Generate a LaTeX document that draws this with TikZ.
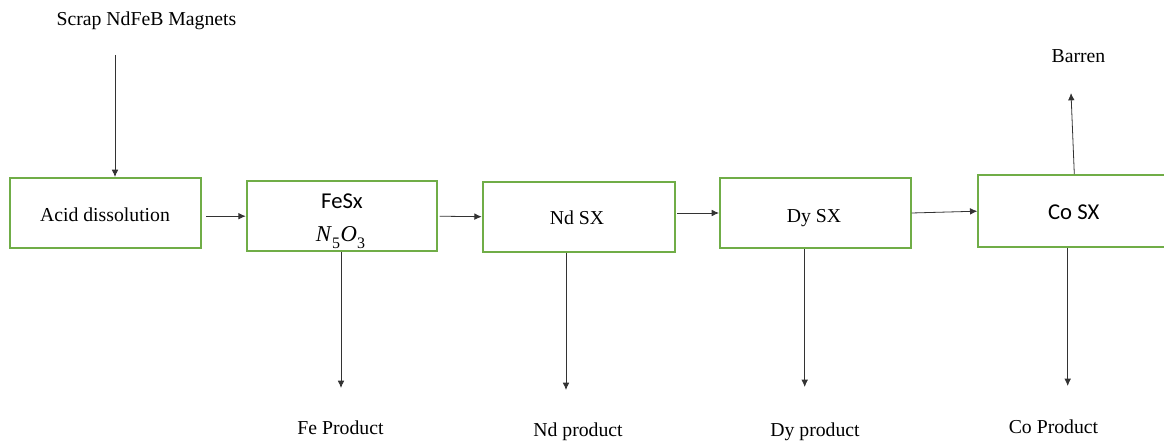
\documentclass[tikz,border=0pt]{standalone}
\usepackage{fontspec}
\setmainfont{Liberation Serif}
\newfontfamily\calibrifont{Carlito}
\usetikzlibrary{arrows.meta}
\definecolor{stagegreen}{RGB}{112,173,71}
\newcommand{\lowidx}[1]{\raisebox{-0.28em}{\fontsize{12}{12}\selectfont #1}}
\begin{document}
\begin{tikzpicture}[x=0.75pt,y=-0.75pt,
  stage/.style={draw=stagegreen, line width=1.5pt, inner sep=0pt},
  serif/.style={font=\fontsize{14.8}{17}\selectfont, inner sep=0pt, anchor=base},
  sans/.style={font=\calibrifont\fontsize{17}{20}\selectfont, inner sep=0pt, anchor=base},
  flow/.style={draw=black!80, line width=0.6pt, -{Latex[length=5.5pt,width=5pt]}}]
\useasboundingbox (0,0) rectangle (1164,445);

% process stages
\node[stage, minimum width=143.25pt, minimum height=52.5pt] (acid) at (105.5,213) {};
\node[stage, minimum width=142.5pt, minimum height=52.7pt] (fe) at (341.7,216.2) {};
\node[stage, minimum width=144pt, minimum height=52.5pt] (nd) at (578.7,216.7) {};
\node[stage, minimum width=143pt, minimum height=53pt] (dy) at (815.3,213) {};
\node[stage, minimum width=144pt, minimum height=54.2pt] (co) at (1074.3,211.2) {};

% stage captions
\node[serif] (acidtext) at (105,221.7) {Acid dissolution};
\node[sans] (fetext) at (342,209) {FeSx};
\node[inner sep=0pt, anchor=base, font=\fontsize{17}{19}\selectfont] (feform) at (340.5,241.7)
  {\textit{N}\lowidx{5}\kern0.5pt\textit{O}\lowidx{3}};
\node[serif] (ndtext) at (577,225) {Nd SX};
\node[serif] (dytext) at (814,222.7) {Dy SX};
\node[sans] (cotext) at (1073.7,220) {Co SX};

% feed
\node[serif] (scrap) at (146.5,26) {Scrap NdFeB Magnets};
\coordinate (scrapout) at (115,55);
\draw[flow] (scrapout) -- (scrapout |- acid.north);

% main line between stages
\draw[flow, shorten <=3pt] (acid.east |- fe.west) -- (fe.west);
\draw[flow, shorten <=1.5pt] (fe.east) -- (nd.west);
\draw[flow, shorten <=1pt] (nd.east |- dy.west) -- (dy.west);
\draw[flow] (dy.east) -- (co.west);

% raffinate
\coordinate (barrentip) at (1071,93);
\draw[flow] (co.north) -- (barrentip);
\node[serif] (barren) at (1078.5,63) {Barren};

% products
\coordinate (fetip) at (341,388);
\coordinate (ndtip) at (566,390);
\coordinate (dytip) at (804.7,387);
\coordinate (cotip) at (1067.7,386);
\draw[flow] (fetip |- fe.south) -- (fetip);
\draw[flow] (ndtip |- nd.south) -- (ndtip);
\draw[flow] (dytip |- dy.south) -- (dytip);
\draw[flow] (cotip |- co.south) -- (cotip);
\node[serif] (feprod) at (340.5,434) {Fe Product};
\node[serif] (ndprod) at (578,436) {Nd product};
\node[serif] (dyprod) at (815,436) {Dy product};
\node[serif] (coprod) at (1053.5,433.3) {Co Product};
\end{tikzpicture}
\end{document}
